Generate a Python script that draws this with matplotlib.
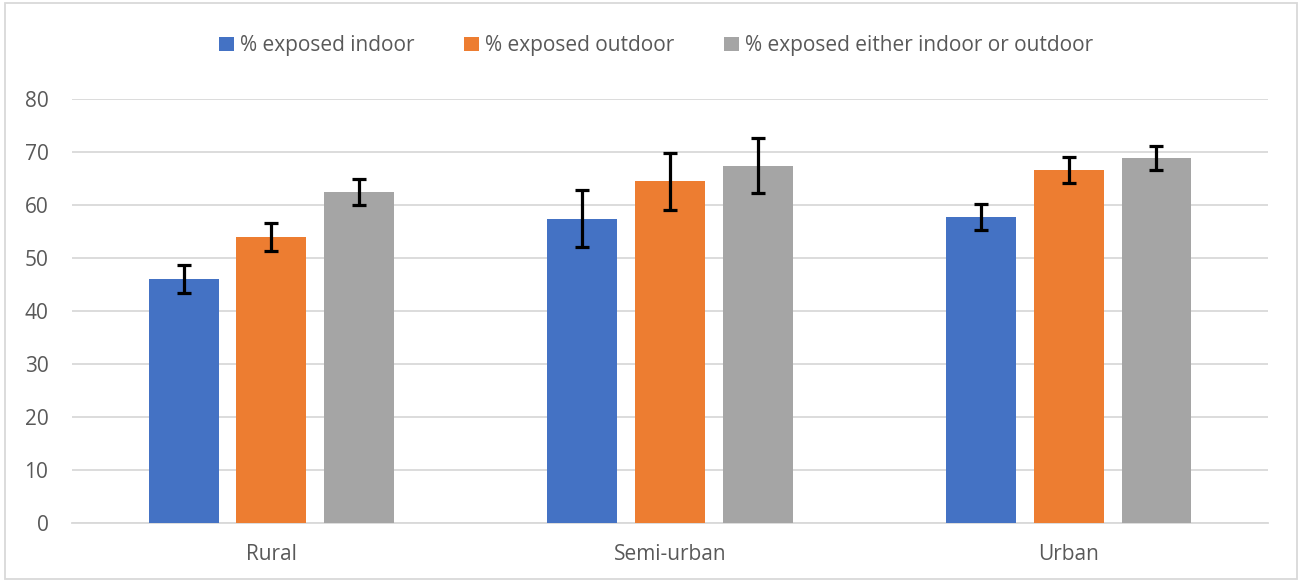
import numpy as np
import matplotlib.pyplot as plt
from matplotlib.patches import Rectangle

categories = ['Rural', 'Semi-urban', 'Urban']
series_names = ['% exposed indoor', '% exposed outdoor', '% exposed either indoor or outdoor']
indoor = [46.0, 57.4, 57.7]
outdoor = [54.0, 64.5, 66.6]
either = [62.5, 67.4, 68.9]
indoor_err = [2.65, 5.4, 2.5]
outdoor_err = [2.6, 5.4, 2.4]
either_err = [2.5, 5.2, 2.3]

colors = ['#4472C4', '#ED7D31', '#A5A5A5']
text_color = '#595959'

plt.rcParams['font.family'] = ['Open Sans', 'DejaVu Sans']

fig = plt.figure(figsize=(13.02, 5.81), dpi=100)
ax = fig.add_axes([0.0553, 0.0998, 0.9186, 0.7298])

x = np.arange(len(categories))
width = 0.175
step = 0.22
values = [indoor, outdoor, either]
errors = [indoor_err, outdoor_err, either_err]
for i, (vals, errs) in enumerate(zip(values, errors)):
    ax.bar(x + (i - 1) * step, vals, width, color=colors[i], label=series_names[i],
           yerr=errs, capsize=5, zorder=3,
           error_kw=dict(ecolor='black', elinewidth=2.3, capthick=2.3))

ax.set_xlim(-0.5, 2.5)
ax.set_ylim(0, 80)
ax.set_yticks(range(0, 81, 10))
ax.set_xticks(x)
ax.set_xticklabels(categories)
ax.yaxis.grid(True, color='#d9d9d9', linewidth=1.3, zorder=0)
for s in ['top', 'right', 'left']:
    ax.spines[s].set_visible(False)
ax.spines['bottom'].set_color('#d9d9d9')
ax.spines['bottom'].set_linewidth(1.3)
ax.tick_params(axis='both', length=0, labelsize=15, colors=text_color)
ax.tick_params(axis='y', pad=17)
ax.tick_params(axis='x', pad=15)

fig.legend(loc='center', bbox_to_anchor=(0.504, 0.921), ncol=3, frameon=False,
           fontsize=15, labelcolor=text_color, handlelength=0.7, handleheight=0.7,
           handletextpad=0.3, columnspacing=2.4)

fig.patches.append(Rectangle((0.004, 0.004), 0.992, 0.99, transform=fig.transFigure,
                             fill=False, edgecolor='#d9d9d9', linewidth=1.3))

fig.savefig('out.png', dpi=100)
